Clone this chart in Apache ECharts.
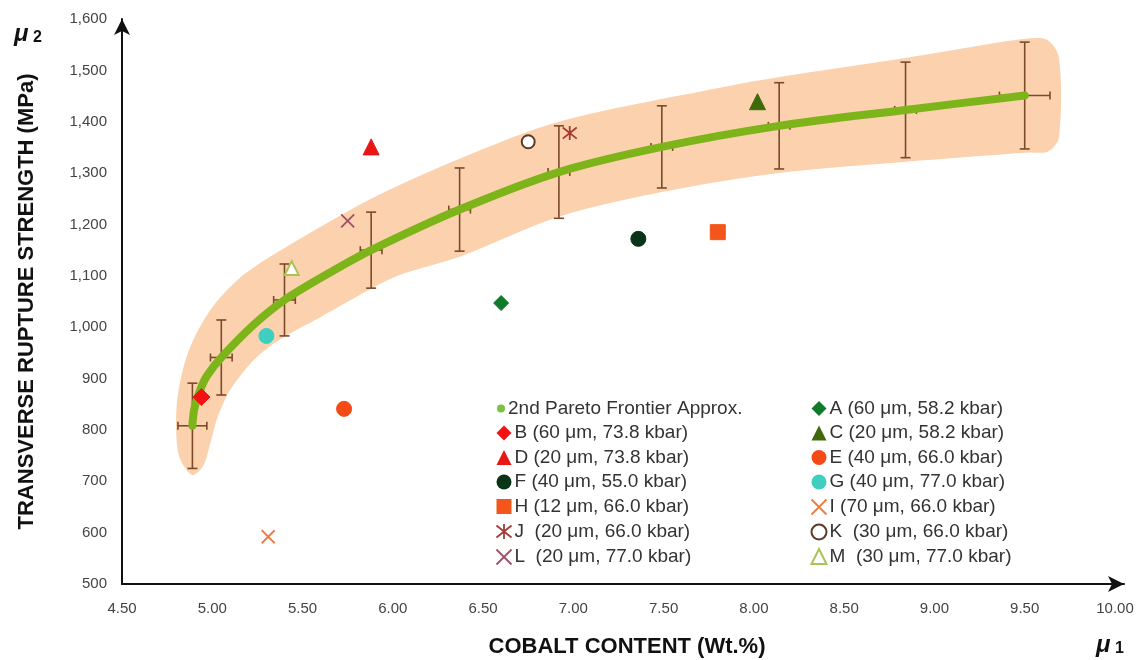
<!DOCTYPE html>
<html>
<head>
<meta charset="utf-8">
<script src="https://cdn.jsdelivr.net/npm/echarts@6/dist/echarts.min.js"></script>
<style>
  html, body { margin: 0; padding: 0; background: #fff; }
  #main { width: 1143px; height: 660px; }
</style>
</head>
<body>
<div id="main"></div>
<script>
// 曲线 (2nd Pareto Frontier Approx.)
var curveX = [4.89, 4.90, 4.93, 4.97, 5.05, 5.23, 5.40, 5.65, 5.88, 6.37, 6.92, 7.49, 8.14, 8.84, 9.50];
var curveY = [808, 840, 875, 905, 941, 1005, 1053, 1106, 1150, 1229, 1302, 1351, 1392, 1423, 1451];

// 误差棒
var errX  = [4.89, 5.05, 5.40, 5.88, 6.37, 6.92, 7.49, 8.14, 8.84, 9.50];
var errY  = [808, 941, 1053, 1150, 1229, 1302, 1351, 1392, 1423, 1451];
var errDy = [83, 73, 70, 74, 81, 90, 80, 84, 93, 104];
var errDx = [0.08, 0.06, 0.06, 0.06, 0.06, 0.06, 0.06, 0.06, 0.06, 0.14];

// 橙色带 outline
var bandX = [4.89, 4.82, 4.80, 4.81, 4.87, 4.99, 5.14, 5.32, 5.88, 6.37, 6.92, 7.81, 8.14, 8.84, 9.47, 9.62, 9.69, 9.69, 9.63, 9.52, 8.84, 8.14, 7.49, 6.92, 6.37, 6.04, 5.87, 5.60, 5.37, 5.23, 5.10, 5.03, 4.99, 4.95];
var bandY = [712, 745, 800, 870, 955, 1034, 1092, 1137, 1250, 1328, 1400, 1466, 1487, 1524, 1560, 1560, 1525, 1370, 1342, 1340, 1322, 1300, 1263, 1215, 1137, 1102, 1073, 1020, 975, 936, 878, 825, 775, 730];

// 散点
var ptNames = ['A (60 μm, 58.2 kbar)', 'B (60 μm, 73.8 kbar)', 'C (20 μm, 58.2 kbar)', 'D (20 μm, 73.8 kbar)',
               'E (40 μm, 66.0 kbar)', 'F (40 μm, 55.0 kbar)', 'G (40 μm, 77.0 kbar)', 'H (12 μm, 66.0 kbar)',
               'I (70 μm, 66.0 kbar)', 'J  (20 μm, 66.0 kbar)', 'K  (30 μm, 66.0 kbar)', 'L  (20 μm, 77.0 kbar)',
               'M  (30 μm, 77.0 kbar)'];
var ptX = [6.60, 4.94, 8.02, 5.88, 5.73, 7.36, 5.30, 7.80, 5.31, 6.98, 6.75, 5.75, 5.44];
var ptY = [1047, 864, 1439, 1351, 841, 1172, 983, 1185, 592, 1378, 1361, 1207, 1115];

var curveName = '2nd Pareto Frontier Approx.';
var pathX = 'path://M0,0L10,10M10,0L0,10';
var pathStar = 'path://M0,1L10,9M10,1L0,9M5,0L5,10';

var styles = [
  { symbol: 'diamond', size: 15, color: '#0e7a2a' },
  { symbol: 'diamond', size: 17, color: '#f21212' },
  { symbol: 'triangle', size: 16, color: '#3f6a0c' },
  { symbol: 'triangle', size: 16, color: '#ea1515' },
  { symbol: 'circle', size: 15, color: '#f34a16' },
  { symbol: 'circle', size: 15, color: '#0a3418' },
  { symbol: 'circle', size: 15, color: '#3fcfc0' },
  { symbol: 'rect', size: 15, color: '#f2561a' },
  { symbol: pathX, size: 13, color: '#ee7a40', stroke: true },
  { symbol: pathStar, size: 14, color: '#a63a34', stroke: true },
  { symbol: 'emptyCircle', size: 13, color: '#5e3a28' },
  { symbol: pathX, size: 13, color: '#9e5066', stroke: true },
  { symbol: 'emptyTriangle', size: 14, color: '#a8c458' }
];

function itemStyleOf(s) {
  if (s.stroke) {
    return { color: 'none', borderColor: s.color, borderWidth: 1.8, opacity: 1 };
  }
  return { color: s.color, borderColor: s.color, opacity: 1 };
}

var series = [];

series.push({
  type: 'custom',
  name: 'band',
  z: 1,
  silent: true,
  data: [[bandX[0], bandY[0]]],
  renderItem: function (params, api) {
    var pts = [];
    for (var i = 0; i < bandX.length; i++) {
      pts.push(api.coord([bandX[i], bandY[i]]));
    }
    return {
      type: 'polygon',
      shape: { points: pts, smooth: 0.3 },
      style: { fill: '#fcd2ae', stroke: null }
    };
  }
});

var errData = [];
for (var i = 0; i < errX.length; i++) {
  errData.push([errX[i], errY[i], errDy[i], errDx[i]]);
}
series.push({
  type: 'custom',
  name: 'err',
  z: 2,
  silent: true,
  data: errData,
  renderItem: function (params, api) {
    var x = api.value(0), y = api.value(1), dy = api.value(2), dx = api.value(3);
    var top = api.coord([x, y + dy]);
    var bot = api.coord([x, y - dy]);
    var lft = api.coord([x - dx, y]);
    var rgt = api.coord([x + dx, y]);
    var st = { stroke: '#7a4a2a', lineWidth: 1.6 };
    var c = 5;
    return {
      type: 'group',
      children: [
        { type: 'line', shape: { x1: top[0], y1: top[1], x2: bot[0], y2: bot[1] }, style: st },
        { type: 'line', shape: { x1: top[0] - c, y1: top[1], x2: top[0] + c, y2: top[1] }, style: st },
        { type: 'line', shape: { x1: bot[0] - c, y1: bot[1], x2: bot[0] + c, y2: bot[1] }, style: st },
        { type: 'line', shape: { x1: lft[0], y1: lft[1], x2: rgt[0], y2: rgt[1] }, style: st },
        { type: 'line', shape: { x1: lft[0], y1: lft[1] - 4, x2: lft[0], y2: lft[1] + 4 }, style: st },
        { type: 'line', shape: { x1: rgt[0], y1: rgt[1] - 4, x2: rgt[0], y2: rgt[1] + 4 }, style: st }
      ]
    };
  }
});

var curveData = [];
for (var i = 0; i < curveX.length; i++) curveData.push([curveX[i], curveY[i]]);
series.push({
  type: 'line',
  name: curveName,
  z: 3,
  data: curveData,
  smooth: 0.3,
  showSymbol: false,
  symbol: 'circle',
  lineStyle: { color: '#7db41a', width: 8, cap: 'round', join: 'round' },
  itemStyle: { color: '#7ac143' }
});

for (var i = 0; i < ptNames.length; i++) {
  var s = styles[i];
  series.push({
    type: 'scatter',
    name: ptNames[i],
    z: 4,
    symbol: s.symbol,
    symbolSize: s.size,
    itemStyle: itemStyleOf(s),
    data: [[ptX[i], ptY[i]]]
  });
}

function legendItem(i) {
  var s = styles[i];
  return { name: ptNames[i], icon: s.symbol, itemStyle: itemStyleOf(s) };
}

var leftIdx = [1, 3, 5, 7, 9, 11];
var rightIdx = [0, 2, 4, 6, 8, 10, 12];
var leftData = leftIdx.map(legendItem);
var rightData = rightIdx.map(legendItem);

var legendText = { fontSize: 19, color: '#333', fontFamily: 'Liberation Sans, Arial, sans-serif', padding: [0, 0, 0, -2] };

var option = {
  animation: false,
  backgroundColor: '#fff',
  grid: { left: 122, right: 19, top: 19, bottom: 76 },
  xAxis: {
    type: 'value',
    min: 4.5,
    max: 10.05,
    interval: 0.5,
    splitLine: { show: false },
    axisTick: { show: false },
    axisLine: {
      onZero: false,
      lineStyle: { color: '#111', width: 2 },
      symbol: ['none', 'arrow'],
      symbolSize: [12, 16]
    },
    axisLabel: {
      margin: 17,
      fontSize: 15,
      color: '#444',
      fontFamily: 'Liberation Sans Narrow, Liberation Sans, Arial, sans-serif',
      formatter: function (v) {
        if (Math.abs(v * 2 - Math.round(v * 2)) > 1e-6 || v > 10.001) return '';
        return v.toFixed(2);
      }
    }
  },
  yAxis: {
    type: 'value',
    min: 500,
    max: 1600,
    interval: 100,
    splitLine: { show: false },
    axisTick: { show: false },
    axisLine: {
      onZero: false,
      lineStyle: { color: '#111', width: 2 },
      symbol: ['none', 'arrow'],
      symbolSize: [12, 16]
    },
    axisLabel: {
      margin: 15,
      fontSize: 15,
      color: '#444',
      fontFamily: 'Liberation Sans Narrow, Liberation Sans, Arial, sans-serif',
      formatter: function (v) { return v.toLocaleString('en-US'); }
    },
    name: 'TRANSVERSE RUPTURE STRENGTH (MPa)',
    nameLocation: 'middle',
    nameGap: 84,
    nameTextStyle: { fontSize: 22, fontWeight: 'bold', color: '#111', fontFamily: 'Liberation Sans, Arial, sans-serif' }
  },
  legend: [
    {
      orient: 'vertical', left: 492, top: 394,
      itemWidth: 8, itemHeight: 8, itemGap: 5.5,
      selectedMode: false,
      textStyle: legendText,
      data: [{ name: curveName, icon: 'circle', itemStyle: { color: '#7ac143' } }]
    },
    {
      orient: 'vertical', left: 489, top: 418.5,
      itemWidth: 15, itemHeight: 15, itemGap: 5.5, selectedMode: false,
      textStyle: legendText,
      data: leftData
    },
    {
      orient: 'vertical', left: 804, top: 394,
      itemWidth: 15, itemHeight: 15, itemGap: 5.5, selectedMode: false,
      textStyle: legendText,
      data: rightData
    }
  ],
  graphic: [
    {
      type: 'text', x: 627, y: 647,
      style: { text: 'COBALT CONTENT (Wt.%)', align: 'center', verticalAlign: 'middle', fontSize: 22, fontWeight: 'bold', fill: '#111', fontFamily: 'Liberation Sans, Arial, sans-serif' }
    },
    {
      type: 'text', left: 14, top: 22,
      style: {
        text: '{m|μ}{s| 2}',
        rich: {
          m: { fontSize: 24, fontWeight: 'bold', fontStyle: 'italic', fill: '#111', fontFamily: 'Liberation Sans, Arial' },
          s: { fontSize: 16, fontWeight: 'bold', fill: '#111', fontFamily: 'Liberation Sans, Arial', padding: [8, 0, 0, 0] }
        }
      }
    },
    {
      type: 'text', left: 1096, top: 633,
      style: {
        text: '{m|μ}{s| 1}',
        rich: {
          m: { fontSize: 24, fontWeight: 'bold', fontStyle: 'italic', fill: '#111', fontFamily: 'Liberation Sans, Arial' },
          s: { fontSize: 16, fontWeight: 'bold', fill: '#111', fontFamily: 'Liberation Sans, Arial', padding: [8, 0, 0, 0] }
        }
      }
    }
  ],
  series: series
};

var chart = echarts.init(document.getElementById('main'));
chart.setOption(option);
</script>
</body>
</html>
